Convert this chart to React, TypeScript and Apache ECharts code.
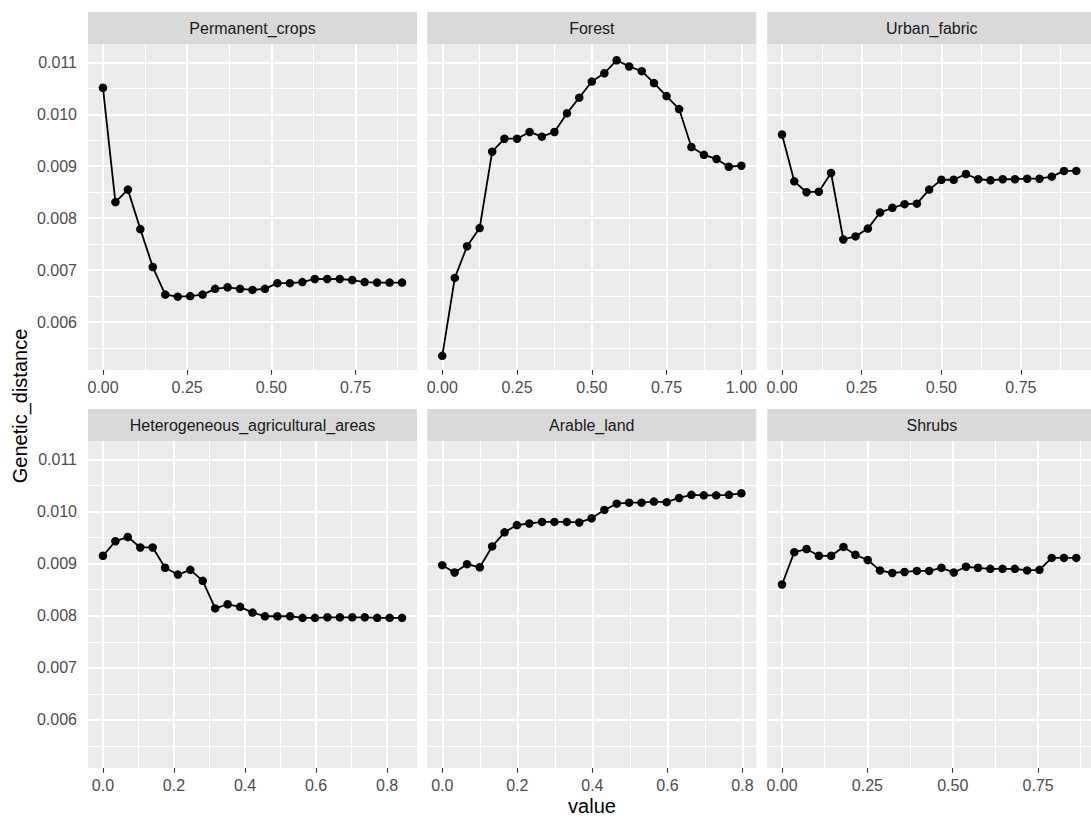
import React, { useEffect, useRef } from "react";
import * as echarts from "echarts";

const panelNames = [
  "Permanent_crops",
  "Forest",
  "Urban_fabric",
  "Heterogeneous_agricultural_areas",
  "Arable_land",
  "Shrubs",
];

const xPermanent = [0, 0.037, 0.074, 0.111, 0.148, 0.185, 0.222, 0.259, 0.296, 0.333, 0.37, 0.407, 0.444, 0.481, 0.518, 0.555, 0.592, 0.629, 0.666, 0.703, 0.74, 0.777, 0.814, 0.851, 0.888];
const yPermanent = [0.01051, 0.00831, 0.00855, 0.00779, 0.00706, 0.00653, 0.00649, 0.0065, 0.00653, 0.00664, 0.00667, 0.00664, 0.00662, 0.00664, 0.00675, 0.00675, 0.00677, 0.00683, 0.00683, 0.00683, 0.00681, 0.00677, 0.00676, 0.00676, 0.00676];

const xForest = [0, 0.042, 0.083, 0.125, 0.167, 0.208, 0.25, 0.292, 0.333, 0.375, 0.417, 0.458, 0.5, 0.542, 0.583, 0.625, 0.667, 0.708, 0.75, 0.792, 0.833, 0.875, 0.917, 0.958, 1.0];
const yForest = [0.00535, 0.00685, 0.00746, 0.00781, 0.00928, 0.00953, 0.00953, 0.00966, 0.00957, 0.00966, 0.01002, 0.01032, 0.01063, 0.01079, 0.01104, 0.01092, 0.01083, 0.0106, 0.01035, 0.0101, 0.00937, 0.00922, 0.00914, 0.00899, 0.00901];

const xUrban = [0, 0.0385, 0.077, 0.1155, 0.154, 0.1925, 0.231, 0.2695, 0.308, 0.3465, 0.385, 0.4235, 0.462, 0.5005, 0.539, 0.5775, 0.616, 0.6545, 0.693, 0.7315, 0.77, 0.8085, 0.847, 0.8855, 0.924];
const yUrban = [0.00961, 0.00871, 0.0085, 0.00851, 0.00887, 0.00759, 0.00765, 0.0078, 0.00811, 0.0082, 0.00827, 0.00828, 0.00855, 0.00874, 0.00874, 0.00885, 0.00875, 0.00873, 0.00875, 0.00875, 0.00876, 0.00876, 0.0088, 0.00891, 0.00891];

const xHetero = [0, 0.035, 0.07, 0.105, 0.14, 0.175, 0.211, 0.246, 0.281, 0.316, 0.351, 0.386, 0.421, 0.456, 0.491, 0.527, 0.562, 0.597, 0.632, 0.667, 0.702, 0.737, 0.772, 0.807, 0.842];
const yHetero = [0.00915, 0.00943, 0.00951, 0.00931, 0.00931, 0.00892, 0.00879, 0.00888, 0.00867, 0.00814, 0.00822, 0.00817, 0.00806, 0.00799, 0.00799, 0.00799, 0.00796, 0.00796, 0.00797, 0.00797, 0.00797, 0.00797, 0.00796, 0.00796, 0.00796];

const xArable = [0, 0.033, 0.066, 0.1, 0.133, 0.166, 0.199, 0.232, 0.266, 0.299, 0.332, 0.365, 0.398, 0.432, 0.465, 0.498, 0.531, 0.564, 0.598, 0.631, 0.664, 0.697, 0.73, 0.764, 0.797];
const yArable = [0.00897, 0.00883, 0.00899, 0.00893, 0.00933, 0.0096, 0.00974, 0.00977, 0.0098, 0.0098, 0.0098, 0.00979, 0.00987, 0.01003, 0.01015, 0.01017, 0.01017, 0.01019, 0.01018, 0.01026, 0.01032, 0.01031, 0.01031, 0.01032, 0.01035];

const xShrubs = [0, 0.036, 0.072, 0.108, 0.144, 0.18, 0.215, 0.251, 0.287, 0.323, 0.359, 0.395, 0.431, 0.467, 0.503, 0.539, 0.574, 0.61, 0.646, 0.682, 0.718, 0.754, 0.79, 0.826, 0.862];
const yShrubs = [0.0086, 0.00922, 0.00928, 0.00915, 0.00915, 0.00932, 0.00917, 0.00907, 0.00887, 0.00882, 0.00884, 0.00886, 0.00886, 0.00892, 0.00883, 0.00894, 0.00892, 0.0089, 0.0089, 0.0089, 0.00887, 0.00888, 0.00911, 0.00911, 0.00911];

const yMajor = [0.006, 0.007, 0.008, 0.009, 0.01, 0.011];
const yMinor = [0.0055, 0.0065, 0.0075, 0.0085, 0.0095, 0.0105];
const yLimits = [0.005078, 0.011353];

const xMajorQuarter = [0, 0.25, 0.5, 0.75];
const xMajorForest = [0, 0.25, 0.5, 0.75, 1.0];
const xMinorQuarter = [0.125, 0.375, 0.625, 0.875];
const xMajorFifth = [0, 0.2, 0.4, 0.6, 0.8];
const xMinorFifth = [0.1, 0.3, 0.5, 0.7];

const panelX = [xPermanent, xForest, xUrban, xHetero, xArable, xShrubs];
const panelY = [yPermanent, yForest, yUrban, yHetero, yArable, yShrubs];
const panelXMajor = [xMajorQuarter, xMajorForest, xMajorQuarter, xMajorFifth, xMajorFifth, xMajorQuarter];
const panelXMinor = [xMinorQuarter, xMinorQuarter, xMinorQuarter, xMinorFifth, xMinorFifth, xMinorQuarter];
const panelDecimals = [2, 2, 2, 1, 1, 2];

const FONT = "'Liberation Sans', Arial, Helvetica, sans-serif";

export default function App() {
  const ref = useRef<HTMLDivElement>(null);
  useEffect(() => {
    if (!ref.current) return;
    const chart = echarts.init(ref.current, null, { renderer: "svg" });

    const colLeft = [88, 427.3, 767.3];
    const colWidth = 329;
    const rowTop = [44, 441];
    const rowHeight = [326, 327];
    const stripH = 32;

    const grids: any[] = [];
    const xAxes: any[] = [];
    const yAxes: any[] = [];
    const series: any[] = [];
    const graphics: any[] = [];

    for (let i = 0; i < 6; i++) {
      const r = Math.floor(i / 3);
      const c = i % 3;
      grids.push({
        left: colLeft[c],
        top: rowTop[r],
        width: colWidth,
        height: rowHeight[r],
        show: true,
        backgroundColor: "#EBEBEB",
        borderWidth: 0,
        containLabel: false,
      });
      const xs = panelX[i];
      const xmin = Math.min(...xs);
      const xmax = Math.max(...xs);
      const pad = (xmax - xmin) * 0.05;
      const xLo = xmin - pad;
      const xHi = xmax + pad;
      const dec = panelDecimals[i];
      xAxes.push({
        type: "value",
        gridIndex: i,
        min: xLo,
        max: xHi,
        axisLine: { show: false },
        splitLine: { show: false },
        axisTick: {
          show: true,
          length: 4.7,
          lineStyle: { color: "#333333", width: 1.1 },
          customValues: panelXMajor[i],
        },
        axisLabel: {
          show: true,
          color: "#4D4D4D",
          fontSize: 16,
          lineHeight: 16,
          fontFamily: FONT,
          margin: 9,
          customValues: panelXMajor[i],
          formatter: (v: number) => v.toFixed(dec),
        },
      });
      yAxes.push({
        type: "value",
        gridIndex: i,
        min: yLimits[0],
        max: yLimits[1],
        axisLine: { show: false },
        splitLine: { show: false },
        axisTick: {
          show: c === 0,
          length: 4.7,
          lineStyle: { color: "#333333", width: 1.1 },
          customValues: yMajor,
        },
        axisLabel: {
          show: c === 0,
          color: "#4D4D4D",
          fontSize: 16,
          fontFamily: FONT,
          margin: 11,
          customValues: yMajor,
          formatter: (v: number) => v.toFixed(3),
        },
      });

      const seg = (x0: number, y0: number, x1: number, y1: number, w: number) => [
        { coord: [x0, y0], lineStyle: { color: "#FFFFFF", width: w, type: "solid" } },
        { coord: [x1, y1] },
      ];
      const mlData: any[] = [];
      yMinor.forEach((v) => mlData.push(seg(xLo, v, xHi, v, 1)));
      panelXMinor[i].forEach((v) => mlData.push(seg(v, yLimits[0], v, yLimits[1], 1)));
      yMajor.forEach((v) => mlData.push(seg(xLo, v, xHi, v, 2)));
      panelXMajor[i].forEach((v) => mlData.push(seg(v, yLimits[0], v, yLimits[1], 2)));

      series.push({
        type: "line",
        name: "grid" + i,
        xAxisIndex: i,
        yAxisIndex: i,
        data: xs.map((x, k) => [x, panelY[i][k]]),
        showSymbol: false,
        symbol: "none",
        lineStyle: { opacity: 0 },
        silent: true,
        z: 1,
        markLine: {
          silent: true,
          symbol: ["none", "none"],
          label: { show: false },
          animation: false,
          data: mlData,
        },
      });

      series.push({
        type: "line",
        name: panelNames[i],
        xAxisIndex: i,
        yAxisIndex: i,
        data: xs.map((x, k) => [x, panelY[i][k]]),
        symbol: "circle",
        symbolSize: 8.5,
        showSymbol: true,
        z: 10,
        itemStyle: { color: "#000000" },
        lineStyle: { color: "#000000", width: 1.8 },
        silent: true,
      });

      graphics.push({
        type: "rect",
        shape: { x: colLeft[c], y: rowTop[r] - stripH, width: colWidth, height: stripH },
        style: { fill: "#D9D9D9" },
        silent: true,
      });
      graphics.push({
        type: "text",
        x: colLeft[c] + colWidth / 2,
        y: rowTop[r] - stripH / 2,
        style: {
          text: panelNames[i],
          fill: "#1A1A1A",
          fontSize: 16,
          fontFamily: FONT,
          textAlign: "center",
          textVerticalAlign: "middle",
        },
        silent: true,
      });
    }

    graphics.push({
      type: "text",
      x: 20,
      y: 406,
      rotation: Math.PI / 2,
      style: {
        text: "Genetic_distance",
        fill: "#000000",
        fontSize: 20,
        fontFamily: FONT,
        textAlign: "center",
        textVerticalAlign: "middle",
      },
      silent: true,
    });
    graphics.push({
      type: "text",
      x: 592,
      y: 806,
      style: {
        text: "value",
        fill: "#000000",
        fontSize: 20,
        lineHeight: 20,
        fontFamily: FONT,
        textAlign: "center",
        textVerticalAlign: "middle",
      },
      silent: true,
    });

    chart.setOption({
      animation: false,
      backgroundColor: "#FFFFFF",
      textStyle: { fontFamily: FONT },
      grid: grids,
      xAxis: xAxes,
      yAxis: yAxes,
      series,
      graphic: graphics,
    });

    return () => chart.dispose();
  }, []);

  return (
    <div
      ref={ref}
      style={{ position: "absolute", left: 0, top: 0, width: 1091, height: 818 }}
    />
  );
}
